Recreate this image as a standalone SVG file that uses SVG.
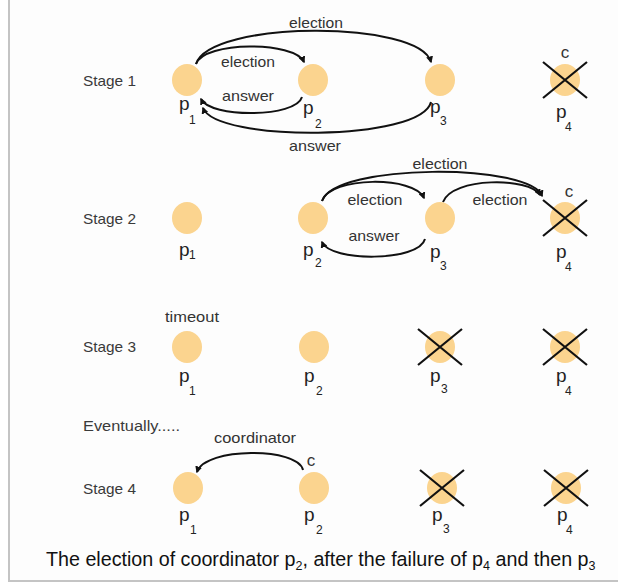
<svg xmlns="http://www.w3.org/2000/svg" width="618" height="584" viewBox="0 0 618 584">
<style>
.lbl{font-family:"Liberation Sans",Arial,sans-serif;font-size:15px;fill:#333;text-anchor:middle}
.c{font-family:"Liberation Sans",Arial,sans-serif;font-size:17px;fill:#333;text-anchor:middle}
.stage{font-family:"Liberation Sans",Arial,sans-serif;font-size:15px;fill:#3a3a3a}
.p{font-family:"Liberation Sans",Arial,sans-serif;font-size:19px;fill:#222}
.sub{font-family:"Liberation Sans",Arial,sans-serif;font-size:12px;fill:#222}
.cap{font-family:"Liberation Sans",Arial,sans-serif;font-size:19.7px;fill:#111}
.capsub{font-family:"Liberation Sans",Arial,sans-serif;font-size:12.5px;fill:#111}
.node{fill:#fbd48f}
.x{stroke:#111;stroke-width:2.2;fill:none}
.arc{fill:none;stroke:#111;stroke-width:2;marker-end:url(#ah)}
</style>
<defs>
<marker id="ah" viewBox="0 0 10 10" refX="8" refY="5" markerWidth="3.5" markerHeight="3.5" orient="auto" markerUnits="strokeWidth">
<path d="M0,0 L10,5 L0,10 z" fill="#111"/>
</marker>
<filter id="soft" x="-20%" y="-20%" width="140%" height="140%"><feGaussianBlur stdDeviation="0.7"/></filter>
</defs>
<rect x="0" y="0" width="618" height="584" fill="#ffffff"/>
<rect x="9" y="-5" width="620" height="586" fill="#fdfdfd" stroke="#c4c4c4" stroke-width="2"/>

<!-- stage labels -->
<text class="stage" x="83" y="86" textLength="53" lengthAdjust="spacingAndGlyphs">Stage 1</text>
<text class="stage" x="83" y="224" textLength="53" lengthAdjust="spacingAndGlyphs">Stage 2</text>
<text class="stage" x="83" y="352" textLength="53" lengthAdjust="spacingAndGlyphs">Stage 3</text>
<text class="stage" x="83" y="431" textLength="97" lengthAdjust="spacingAndGlyphs">Eventually.....</text>
<text class="stage" x="83" y="494" textLength="53" lengthAdjust="spacingAndGlyphs">Stage 4</text>

<!-- Stage 1 nodes -->
<g id="s1p1"><ellipse class="node" cx="187" cy="80" rx="15" ry="16" filter="url(#soft)"/><text class="p" x="179" y="110">p</text><text class="sub" x="189" y="124">1</text></g>
<g id="s1p2"><ellipse class="node" cx="313" cy="80" rx="15" ry="16" filter="url(#soft)"/><text class="p" x="303" y="114">p</text><text class="sub" x="315" y="128">2</text></g>
<g id="s1p3"><ellipse class="node" cx="440" cy="80" rx="15" ry="16" filter="url(#soft)"/><text class="p" x="430" y="113">p</text><text class="sub" x="440" y="125">3</text></g>
<g id="s1p4"><ellipse class="node" cx="565" cy="80" rx="15" ry="16" filter="url(#soft)"/><path class="x" d="M543,62 L587,98 M587,62 L543,98"/><text class="c" x="565" y="58">c</text><text class="p" x="556" y="118">p</text><text class="sub" x="565" y="131">4</text></g>

<!-- Stage 2 nodes -->
<g id="s2p1"><ellipse class="node" cx="187" cy="218" rx="15" ry="16" filter="url(#soft)"/><text class="p" x="179" y="256">p</text><text class="sub" x="189" y="259">1</text></g>
<g id="s2p2"><ellipse class="node" cx="313" cy="218" rx="15" ry="16" filter="url(#soft)"/><text class="p" x="303" y="256">p</text><text class="sub" x="315" y="267">2</text></g>
<g id="s2p3"><ellipse class="node" cx="440" cy="218" rx="15" ry="16" filter="url(#soft)"/><text class="p" x="430" y="258">p</text><text class="sub" x="440" y="270">3</text></g>
<g id="s2p4"><ellipse class="node" cx="565" cy="218" rx="15" ry="16" filter="url(#soft)"/><path class="x" d="M543,200 L587,236 M587,200 L543,236"/><text class="c" x="569" y="197">c</text><text class="p" x="556" y="258">p</text><text class="sub" x="565" y="271">4</text></g>

<!-- Stage 3 nodes -->
<g id="s3p1"><ellipse class="node" cx="187" cy="347" rx="15" ry="16" filter="url(#soft)"/><text class="lbl" x="192" y="322" textLength="54" lengthAdjust="spacingAndGlyphs">timeout</text><text class="p" x="179" y="382">p</text><text class="sub" x="189" y="395">1</text></g>
<g id="s3p2"><ellipse class="node" cx="314" cy="347" rx="15" ry="16" filter="url(#soft)"/><text class="p" x="304" y="382">p</text><text class="sub" x="316" y="395">2</text></g>
<g id="s3p3"><ellipse class="node" cx="440" cy="347" rx="15" ry="16" filter="url(#soft)"/><path class="x" d="M418,329 L462,365 M462,329 L418,365"/><text class="p" x="430" y="382">p</text><text class="sub" x="441" y="393">3</text></g>
<g id="s3p4"><ellipse class="node" cx="565" cy="347" rx="15" ry="16" filter="url(#soft)"/><path class="x" d="M543,329 L587,365 M587,329 L543,365"/><text class="p" x="556" y="382">p</text><text class="sub" x="565" y="395">4</text></g>

<!-- Stage 4 nodes -->
<g id="s4p1"><ellipse class="node" cx="188" cy="488" rx="15" ry="16" filter="url(#soft)"/><text class="p" x="179" y="521">p</text><text class="sub" x="190" y="534">1</text></g>
<g id="s4p2"><ellipse class="node" cx="314" cy="488" rx="15" ry="16" filter="url(#soft)"/><text class="c" x="311" y="466">c</text><text class="p" x="304" y="521">p</text><text class="sub" x="316" y="534">2</text></g>
<g id="s4p3"><ellipse class="node" cx="442" cy="488" rx="15" ry="16" filter="url(#soft)"/><path class="x" d="M420,470 L464,506 M464,470 L420,506"/><text class="p" x="432" y="521">p</text><text class="sub" x="443" y="533">3</text></g>
<g id="s4p4"><ellipse class="node" cx="566" cy="488" rx="15" ry="16" filter="url(#soft)"/><path class="x" d="M544,470 L588,506 M588,470 L544,506"/><text class="p" x="557" y="521">p</text><text class="sub" x="566" y="534">4</text></g>

<!-- connectors -->
<g id="connectors">
<path class="arc" d="M196,64 C210,20 420,20 431,62"/>
<path class="arc" d="M196,64 C204,41 295,41 304,62"/>
<path class="arc" d="M302,97 C296,118 210,118 201,99"/>
<path class="arc" d="M431,102 C421,142 216,142 203,108"/>

<path class="arc" d="M322,201 C335,163 530,163 542,196"/>
<path class="arc" d="M322,201 C330,176 415,176 424,198"/>
<path class="arc" d="M443,202 C452,177 530,177 540,195"/>
<path class="arc" d="M425,239 C419,262 330,262 322,242"/>

<path class="arc" d="M303,470 C298,447 205,447 197,472"/>
</g>

<!-- edge labels -->
<text class="lbl" x="316" y="28" textLength="54" lengthAdjust="spacingAndGlyphs">election</text>
<text class="lbl" x="248" y="67" textLength="54" lengthAdjust="spacingAndGlyphs">election</text>
<text class="lbl" x="248" y="101" textLength="52" lengthAdjust="spacingAndGlyphs">answer</text>
<text class="lbl" x="315" y="151" textLength="52" lengthAdjust="spacingAndGlyphs">answer</text>
<text class="lbl" x="440" y="169" textLength="55" lengthAdjust="spacingAndGlyphs">election</text>
<text class="lbl" x="375" y="205" textLength="55" lengthAdjust="spacingAndGlyphs">election</text>
<text class="lbl" x="500" y="205" textLength="55" lengthAdjust="spacingAndGlyphs">election</text>
<text class="lbl" x="374" y="241" textLength="51" lengthAdjust="spacingAndGlyphs">answer</text>
<text class="lbl" x="255" y="443" textLength="82" lengthAdjust="spacingAndGlyphs">coordinator</text>

<!-- caption -->
<text class="cap" x="46" y="566">The election of coordinator p<tspan class="capsub" dy="4">2</tspan><tspan dy="-4">, after the failure of p</tspan><tspan class="capsub" dy="4">4</tspan><tspan dy="-4"> and then p</tspan><tspan class="capsub" dy="4">3</tspan></text>
</svg>
